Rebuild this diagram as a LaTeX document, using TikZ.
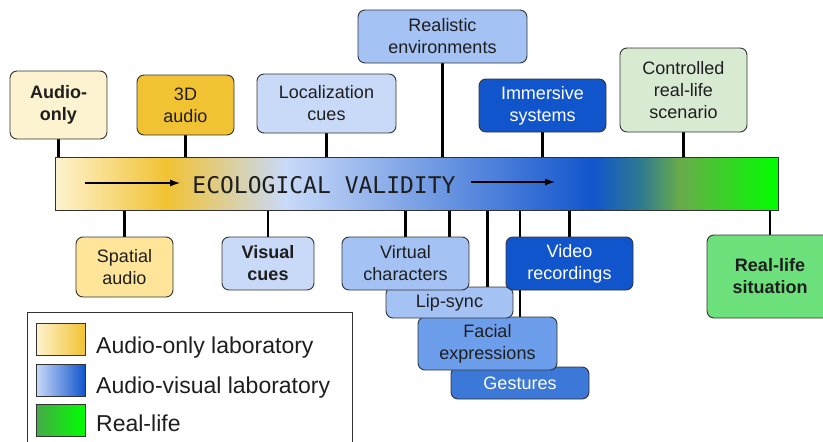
\documentclass[tikz,border=0pt]{standalone}
\usepackage{fontspec}
\setmainfont{Liberation Sans}
\setmonofont{DejaVu Sans Mono}
\usepackage{tikz}
\usetikzlibrary{arrows, arrows.meta, positioning, backgrounds}

\definecolor{cream}{HTML}{FEF3D0}
\definecolor{gold}{HTML}{F1C232}
\definecolor{sand}{HTML}{FFE599}
\definecolor{paleblue}{HTML}{C9DAF8}
\definecolor{lightblue}{HTML}{A4C2F4}
\definecolor{midblue}{HTML}{6D9EEB}
\definecolor{blue3}{HTML}{3C78D8}
\definecolor{deepblue}{HTML}{1155CC}
\definecolor{teal1}{HTML}{2F7A90}
\definecolor{olive1}{HTML}{6AAA4A}
\definecolor{palegreen}{HTML}{D9EAD3}
\definecolor{lifegreen}{HTML}{6CE07A}
\definecolor{darkgreen}{HTML}{48A848}
\definecolor{neon}{HTML}{00FF00}
\definecolor{edge}{HTML}{333333}
\definecolor{ink}{HTML}{1E1E1E}

% bar runs from 25bp to 75bp of the shading
\pgfdeclarehorizontalshading{ecobar}{100bp}{
  color(0bp)=(cream); color(25bp)=(cream);
  color(32.7bp)=(gold); color(40.9bp)=(paleblue);
  color(62.2bp)=(deepblue); color(65.5bp)=(teal1);
  color(68.2bp)=(olive1); color(75bp)=(neon); color(100bp)=(neon)}

\begin{document}
\begin{tikzpicture}[
      x = 1pt, y = -1pt,          % pixel-like units, y down
      > = {Latex[length=10pt, width=7pt]}, % arrow head style
      semithick
    ]

    \tikzstyle{B1}=[      % Defines style for rounded boxes
      draw = edge,
      line width = 0.9pt,
      rounded corners = 7pt,
      align = center,
      text = ink,
      font = \fontsize{18}{22}\selectfont
    ]

    \tikzstyle{L1}=[      % Defines style for connector lines
      draw = black,
      line width = 2.6pt
    ]

    \tikzstyle{K1}=[      % Defines style for legend swatches
      draw = edge,
      line width = 0.9pt,
      minimum width = 49pt,
      minimum height = 32pt
    ]

    \useasboundingbox (0,0) rectangle (823,442);

    % The bar
    \node[draw = edge, line width = 0.9pt, shading = ecobar,
          minimum width = 723pt, minimum height = 53pt,
          inner sep = 0pt] (bar) at (416.5,183.5) {};
    \node[font = \ttfamily\fontsize{23}{23}\selectfont, text = ink]
          (title) at (324,185) {ECOLOGICAL VALIDITY};
    \coordinate (a1) at (85,183);
    \coordinate (a2) at (180,183);
    \coordinate (b1) at (471,182);
    \coordinate (b2) at (555,182);
    \draw[->, line width = 1.1pt] (a1) -- (a2);
    \draw[->, line width = 1.1pt] (b1) -- (b2);

    % Boxes above the bar
    \node[B1, fill = cream, minimum width = 97pt, minimum height = 68pt]
          (audioonly) at (58.5,105) {\bfseries Audio-\\\bfseries only};
    \node[B1, fill = gold, minimum width = 97pt, minimum height = 60pt]
          (threed) at (185.5,105) {3D\\audio};
    \node[B1, fill = paleblue, minimum width = 139pt, minimum height = 59pt]
          (loccues) at (326.5,103.5) {Localization\\cues};
    \node[B1, fill = lightblue, minimum width = 169pt, minimum height = 53pt]
          (realenv) at (442.5,36.5) {Realistic\\environments};
    \node[B1, fill = deepblue, text = white, minimum width = 127pt, minimum height = 53pt]
          (immersive) at (542.5,105.5) {Immersive\\systems};
    \node[B1, fill = palegreen, minimum width = 127pt, minimum height = 84pt]
          (controlled) at (683.5,90) {Controlled\\real-life\\scenario};

    % Boxes below the bar (back to front)
    \node[B1, fill = sand, minimum width = 97pt, minimum height = 60pt]
          (spatial) at (124.5,267) {Spatial\\audio};
    \node[B1, fill = paleblue, minimum width = 92pt, minimum height = 53pt]
          (viscues) at (268,263.5) {\bfseries Visual\\\bfseries cues};
    \node[B1, fill = blue3, text = white, minimum width = 138pt, minimum height = 32pt]
          (gestures) at (520,383) {Gestures};
    \node[B1, fill = midblue, minimum width = 139pt, minimum height = 53pt]
          (facial) at (487.5,343.5) {Facial\\expressions};
    \node[B1, fill = lightblue, minimum width = 127pt, minimum height = 31pt]
          (lipsync) at (449.5,302.5) {Lip-sync};
    \node[B1, fill = lightblue, minimum width = 127pt, minimum height = 53pt]
          (virtchar) at (405.5,263.5) {Virtual\\characters};
    \node[B1, fill = deepblue, text = white, minimum width = 127pt, minimum height = 53pt]
          (video) at (569.5,263.5) {Video\\recordings};
    \node[B1, fill = lifegreen, minimum width = 126pt, minimum height = 83pt]
          (reallife) at (770,276.5) {\bfseries Real-life\\\bfseries situation};

    % Definition of the connectors
    \begin{pgfonlayer}{background}
      \foreach \n in {audioonly, threed, loccues, realenv, immersive, controlled}
        \draw[L1] (\n) -- (\n |- bar.north);
      \foreach \n in {spatial, viscues, virtchar, lipsync, facial, gestures, video, reallife}
        \draw[L1] (\n) -- (\n |- bar.south);
    \end{pgfonlayer}

    % Legend
    \node[draw = edge, line width = 0.9pt, minimum width = 325pt,
          minimum height = 140pt, anchor = north west] (legend) at (27,312) {};
    \node[K1, left color = cream, right color = gold] (k1) at (60.5,339) {};
    \node[K1, left color = paleblue, right color = deepblue] (k2) at (60.5,380) {};
    \node[K1, left color = darkgreen, right color = neon] (k3) at (60.5,420) {};
    \node[anchor = base west, text = ink, font = \fontsize{23}{23}\selectfont, inner sep = 0pt]
          (t1) at (96,353) {Audio-only laboratory};
    \node[anchor = base west, text = ink, font = \fontsize{23}{23}\selectfont, inner sep = 0pt]
          (t2) at (96,393) {Audio-visual laboratory};
    \node[anchor = base west, text = ink, font = \fontsize{23}{23}\selectfont, inner sep = 0pt]
          (t3) at (96,431) {Real-life};

  \end{tikzpicture}
\end{document}
